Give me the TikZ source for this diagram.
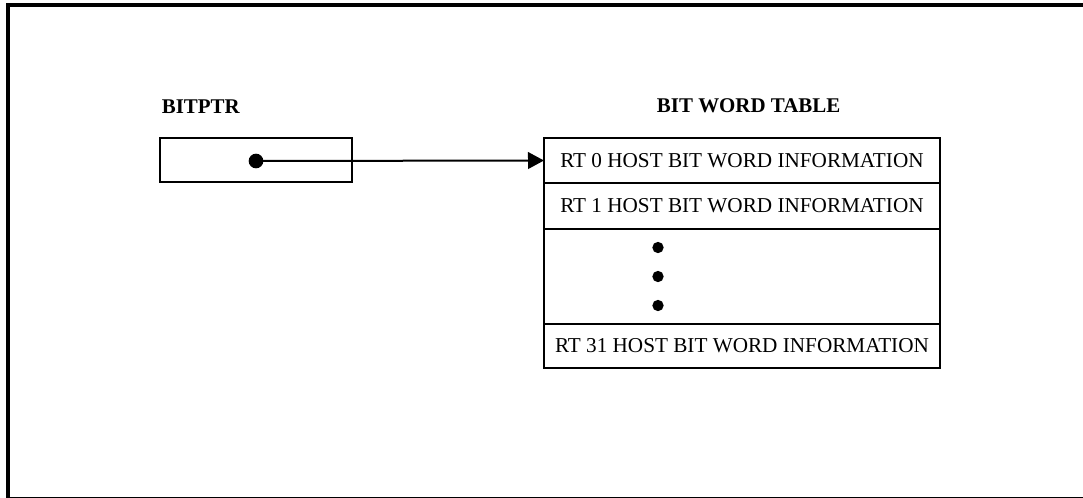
\documentclass[tikz,border=0pt]{standalone}
\usepackage{fontspec}
\setmainfont{Liberation Serif}
\usetikzlibrary{arrows.meta,positioning}

\begin{document}
\begin{tikzpicture}[x=0.75pt,y=-0.75pt,>={Triangle[length=12pt,width=12.5pt]},
    font=\fontsize{15.9pt}{19pt}\selectfont,
    title/.style={inner sep=0pt,font=\fontsize{15.7pt}{19pt}\selectfont\bfseries},
    ptrbox/.style={draw,line width=1.6pt,minimum width=144pt,minimum height=33pt,inner sep=0pt},
    ptrdot/.style={circle,fill,inner sep=0pt,minimum size=11pt},
    tablerow/.style={draw,line width=1.7pt,minimum width=297pt,inner sep=0pt,outer sep=0pt},
    listdot/.style={circle,fill,inner sep=0pt,minimum size=8.5pt}]
  \useasboundingbox (0,0) rectangle (1083,497);
  \clip (0,0) rectangle (1083,497);
  \draw[line width=3pt] (8,5) rectangle (1095,498.5);

  % pointer
  \node[ptrbox] (bitptr) at (256,160) {};
  \node[ptrdot] (ptrdot) at (256,161) {};
  \node[title,anchor=south west] (ptrtitle) [above right=17pt and 2pt of bitptr.north west] {BITPTR};

  % table
  \node[tablerow,minimum height=33.75pt] (row0) at (742,160.5) {RT 0 HOST BIT WORD INFORMATION};
  \node[tablerow,minimum height=34.5pt]  (row1) [below=0pt of row0] {RT 1 HOST BIT WORD INFORMATION};
  \node[tablerow,minimum height=71.25pt] (rowdots) [below=0pt of row1] {};
  \node[tablerow,minimum height=33pt]    (row31) [below=0pt of rowdots] {RT 31 HOST BIT WORD INFORMATION};
  \node[title] (tabletitle) [above=18.75pt of row0.north, xshift=5pt] {BIT WORD TABLE};

  \foreach \i/\dy in {1/21.75,2/0,3/-21.75}
    \node[listdot] (dot\i) at ([xshift=-63pt,yshift=\dy pt]rowdots.center) {};

  \draw[->,line width=1.5pt] (ptrdot.center) -- (row0.west);
\end{tikzpicture}
\end{document}
